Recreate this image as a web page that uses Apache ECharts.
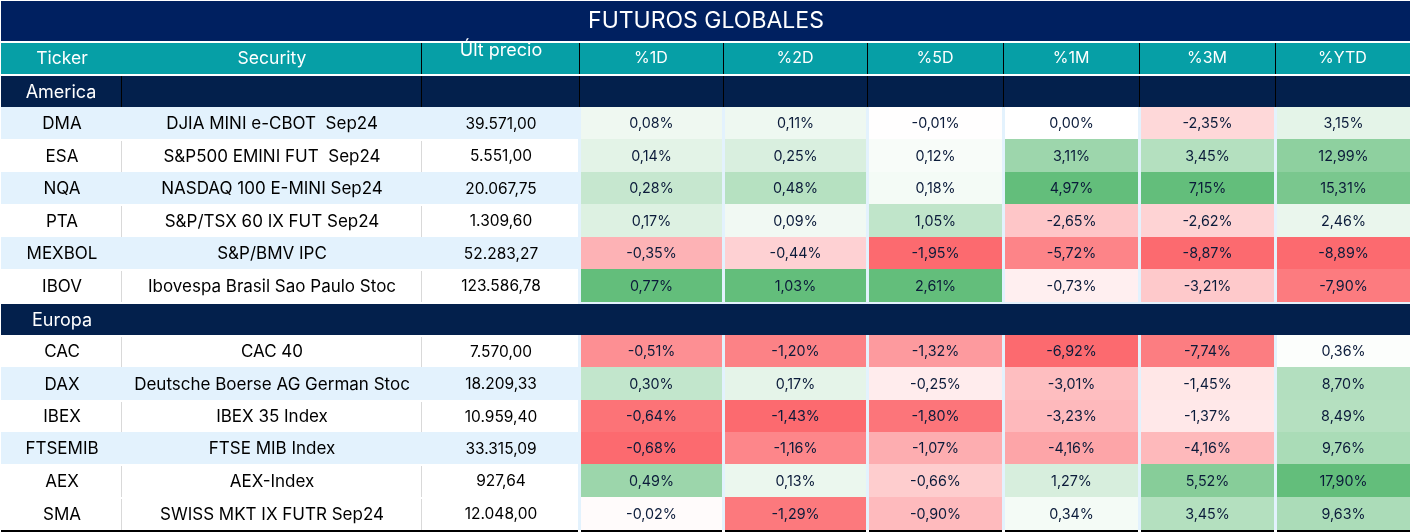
<!DOCTYPE html>
<html>
<head>
<meta charset="utf-8">
<style>html,body{margin:0;padding:0;background:#fff}#chart{width:1412px;height:532px}</style>
<script src="https://cdn.jsdelivr.net/npm/echarts@6/dist/echarts.min.js"></script>
</head>
<body>
<div id="chart"></div>
<script>
var titleText = 'FUTUROS GLOBALES';
var headers = ['Ticker', 'Security', 'Últ precio', '%1D', '%2D', '%5D', '%1M', '%3M', '%YTD'];

var tickers = ['DMA', 'ESA', 'NQA', 'PTA', 'MEXBOL', 'IBOV', 'CAC', 'DAX', 'IBEX', 'FTSEMIB', 'AEX', 'SMA'];
var securities = ['DJIA MINI e-CBOT  Sep24', 'S&P500 EMINI FUT  Sep24', 'NASDAQ 100 E-MINI Sep24', 'S&P/TSX 60 IX FUT Sep24',
    'S&P/BMV IPC', 'Ibovespa Brasil Sao Paulo Stoc', 'CAC 40', 'Deutsche Boerse AG German Stoc', 'IBEX 35 Index',
    'FTSE MIB Index', 'AEX-Index', 'SWISS MKT IX FUTR Sep24'];
var prices = ['39.571,00', '5.551,00', '20.067,75', '1.309,60', '52.283,27', '123.586,78',
    '7.570,00', '18.209,33', '10.959,40', '33.315,09', '927,64', '12.048,00'];

var pct1D = [0.08, 0.14, 0.28, 0.17, -0.35, 0.77, -0.51, 0.30, -0.64, -0.68, 0.49, -0.02];
var pct2D = [0.11, 0.25, 0.48, 0.09, -0.44, 1.03, -1.20, 0.17, -1.43, -1.16, 0.13, -1.29];
var pct5D = [-0.01, 0.12, 0.18, 1.05, -1.95, 2.61, -1.32, -0.25, -1.80, -1.07, -0.66, -0.90];
var pct1M = [0.00, 3.11, 4.97, -2.65, -5.72, -0.73, -6.92, -3.01, -3.23, -4.16, 1.27, 0.34];
var pct3M = [-2.35, 3.45, 7.15, -2.62, -8.87, -3.21, -7.74, -1.45, -1.37, -4.16, 5.52, 3.45];
var pctYTD = [3.15, 12.99, 15.31, 2.46, -8.89, -7.90, 0.36, 8.70, 8.49, 9.76, 17.90, 9.63];
var pctColumns = [pct1D, pct2D, pct5D, pct1M, pct3M, pctYTD];

// layout, in pixels of the value axes
var fontName = 'Inter';
var colEdges = [1, 121, 421, 579, 723, 867, 1003, 1139, 1275, 1410];
var rowTops = [107, 139, 172, 204, 237, 269, 335, 367, 400, 432, 464, 497];
var rowBottoms = [139, 172, 204, 237, 269, 302, 367, 400, 432, 464, 497, 530];
var sections = [{name: 'America', top: 76, bottom: 107, nameX: 61, lines: true},
    {name: 'Europa', top: 304, bottom: 335, nameX: 62, lines: false}];

var NAVY = '#002060', TEAL = '#069FA6', SECTION = '#03204C', STRIP = '#E3F2FD', INK = '#0B1B3A';
var GREEN = '#63BE7B', RED = '#FC6A6F';

var marks = [];
function box(x0, y0, x1, y1, fill) {
    marks.push({value: [x0, y0, x1, y1], fill: fill});
}
function label(x, y, str, size, fill) {
    marks.push({value: [x, y, x, y], text: str, size: size, fill: fill});
}
function pctText(v) {
    return v.toFixed(2).replace('.', ',') + '%';
}
// each column has its own scale: white at zero, full colour at that column's extreme
function heatColor(v, column) {
    var top = Math.max.apply(null, column), low = Math.min.apply(null, column);
    if (v >= 0) return echarts.color.lerp(v / top, ['#FFFFFF', GREEN]);
    return echarts.color.lerp(v / low, ['#FFFFFF', RED]);
}

function buildMarks() {
    var i, c;
    // title
    box(1, 1, 1410, 41, NAVY);
    label(706, 21, titleText, 23, '#FFFFFF');

    // header
    box(1, 43, 1410, 74, TEAL);
    for (c = 2; c < 9; c++) box(colEdges[c], 43, colEdges[c] + 1, 74, '#000000');
    for (c = 0; c < 9; c++) {
        var cx = c < 3 ? [62, 272, 501][c] : (colEdges[c] + colEdges[c + 1]) / 2;
        var size = c == 2 ? 18 : (c < 2 ? 17.5 : 16);
        label(cx, c == 2 ? 51 : 58.5, headers[c], size, '#FFFFFF');
    }

    // strip behind the percent cells
    box(578, 107, 1410, 530, STRIP);

    // rows
    for (i = 0; i < tickers.length; i++) {
        var odd = [0, 2, 4, 7, 9].indexOf(i) >= 0;
        box(1, rowTops[i], 578, rowBottoms[i], odd ? STRIP : '#FFFFFF');
        if (!odd) {
            box(121, rowTops[i] + 2, 122, rowBottoms[i], '#D9D9D9');
            box(421, rowTops[i] + 2, 422, rowBottoms[i], '#D9D9D9');
        }
        var my = (rowTops[i] + rowBottoms[i]) / 2 + 1;
        label(62, my, tickers[i], 17, '#000000');
        label(272, my, securities[i], 17, '#000000');
        label(501, my, prices[i], 15.5, '#000000');
        for (c = 0; c < 6; c++) {
            var x0 = colEdges[c + 3] + 2, x1 = c == 5 ? 1410 : colEdges[c + 4] - 1;
            box(x0, rowTops[i], x1, rowBottoms[i], heatColor(pctColumns[c][i], pctColumns[c]));
            label((x0 + x1) / 2, my, pctText(pctColumns[c][i]), 14.3, INK);
        }
    }

    // section bands
    sections.forEach(function (s) {
        box(1, s.top, 1410, s.bottom, SECTION);
        if (s.lines) {
            box(121, s.top, 122, s.bottom, '#000000');
            for (c = 2; c < 9; c++) box(colEdges[c], s.top, colEdges[c] + 1, s.bottom, '#000000');
        }
        label(s.nameX, (s.top + s.bottom) / 2 + 1, s.name, 18, '#FFFFFF');
    });

    // closing line
    box(1, 530, 578, 532, '#000000');
    for (c = 0; c < 6; c++) {
        box(colEdges[c + 3] + 2, 530, c == 5 ? 1410 : colEdges[c + 4] - 1, 532, '#000000');
    }
}

function renderMark(params, api) {
    var m = marks[params.dataIndex];
    var a = api.coord([api.value(0), api.value(1)]);
    if (m.text !== undefined) {
        return {
            type: 'text',
            style: {
                x: a[0], y: a[1], text: m.text, fill: m.fill,
                font: m.size + 'px ' + fontName,
                textAlign: 'center', textVerticalAlign: 'middle'
            }
        };
    }
    var b = api.coord([api.value(2), api.value(3)]);
    return {
        type: 'rect',
        shape: {x: a[0], y: a[1], width: b[0] - a[0], height: b[1] - a[1]},
        style: {fill: m.fill}
    };
}

buildMarks();

var myChart = echarts.init(document.getElementById('chart'));
var option = {
    animation: false,
    backgroundColor: '#FFFFFF',
    grid: {left: 0, right: 0, top: 0, bottom: 0},
    xAxis: {type: 'value', min: 0, max: 1412, show: false},
    yAxis: {type: 'value', min: 0, max: 532, inverse: true, show: false},
    series: [{
        type: 'custom',
        coordinateSystem: 'cartesian2d',
        renderItem: renderMark,
        encode: {x: [0, 2], y: [1, 3]},
        data: marks,
        silent: true,
        clip: false
    }]
};
myChart.setOption(option);
</script>
</body>
</html>
